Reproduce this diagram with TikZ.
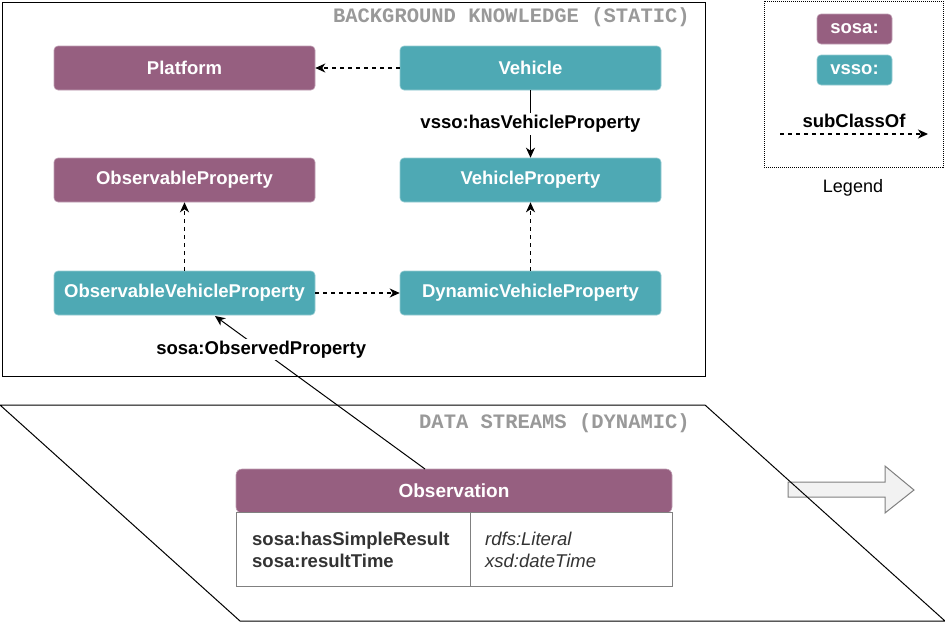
\documentclass[tikz,border=0pt]{standalone}
\usepackage{fontspec}
\setmainfont{Liberation Sans}
\newfontfamily\monofont{Liberation Mono}
\usepackage{tikz}
\usetikzlibrary{arrows.meta}
\definecolor{sosapurple}{HTML}{965F80}
\definecolor{vssoteal}{HTML}{4EA9B4}
\definecolor{titlegray}{HTML}{999999}
\definecolor{attrgray}{HTML}{333333}

\begin{document}
\begin{tikzpicture}[x=1pt,y=1pt]
\tikzstyle{every node}+=[inner sep=0pt]
\tikzstyle{cls}=[rectangle, rounded corners=4pt, text=white, line width=0.6pt, font=\bfseries\fontsize{18.5}{22}\selectfont, minimum width=261pt, minimum height=44pt]
\tikzstyle{sosacls}=[cls, fill=sosapurple, draw=sosapurple!60!white]
\tikzstyle{vssocls}=[cls, fill=vssoteal, draw=vssoteal!60!white]
\tikzstyle{subcls}=[black, line width=1.1pt, dash pattern=on 4pt off 4pt, -{Stealth[length=10pt,width=9pt,inset=3pt]}]
\tikzstyle{prop}=[black, line width=1.1pt, -{Stealth[length=10pt,width=9pt,inset=3pt]}]
\tikzstyle{lbl}=[fill=white, inner sep=2pt, font=\bfseries\fontsize{18.5}{22}\selectfont]
\tikzstyle{titletxt}=[text=titlegray, font=\monofont\bfseries\fontsize{20.5}{24}\selectfont]
\useasboundingbox (0,0) rectangle (945,-624);
\draw [black, line width=1pt] (2,-2) rectangle (705,-376);
\node [titletxt, anchor=east] (bgtitle) at (690,-17) {BACKGROUND KNOWLEDGE (STATIC)};
\node [sosacls] (platform) at (184.5,-68) {Platform};
\node [vssocls] (vehicle) at (530.5,-68) {Vehicle};
\node [sosacls] (obsprop) at (184.5,-180) {ObservableProperty};
\node [vssocls] (vehprop) at (530.5,-180) {VehicleProperty};
\node [vssocls] (ovp) at (184.5,-293) {ObservableVehicleProperty};
\node [vssocls] (dvp) at (530.5,-293) {DynamicVehicleProperty};
\draw [subcls] (vehicle) -- (platform);
\draw [prop] (vehicle) -- node [lbl] {vsso:hasVehicleProperty} (vehprop);
\draw [subcls] (ovp) -- (obsprop);
\draw [subcls] (dvp) -- (vehprop);
\draw [subcls] (ovp) -- (dvp);
\draw [black, densely dotted, line width=1pt] (764,-1) rectangle (943,-167);
\node [sosacls, minimum width=75pt, minimum height=30pt] (legsosa) at (854.5,-29) {sosa:};
\node [vssocls, minimum width=75pt, minimum height=30pt] (legvsso) at (854.5,-70) {vsso:};
\coordinate (legfrom) at (780,-134);
\coordinate (legto) at (928,-134);
\draw [subcls] (legfrom) -- node [lbl, above=4pt, fill=none] {subClassOf} (legto);
\node [font=\fontsize{18}{22}\selectfont] (legend) at (853,-188) {Legend};
\draw [gray, fill=gray!10, line width=1pt] (788,-482) -- (885,-482) -- (885,-466) -- (914,-490) -- (885,-513) -- (885,-497) -- (788,-497) -- cycle;
\draw [black, line width=1pt] (0,-405) -- (705,-405) -- (945,-621) -- (240,-621) -- cycle;
\node [titletxt, anchor=east] (dstitle) at (690,-423) {DATA STREAMS (DYNAMIC)};
\node [sosacls, rounded corners=6pt, minimum width=436pt, font=\bfseries\fontsize{19}{22}\selectfont] (obs) at (454,-491) {Observation};
\node [rectangle, draw=gray, fill=white, line width=1pt, minimum width=436pt, minimum height=74pt] (obsattr) at (454,-549) {};
\draw [gray, line width=1pt] (470,-512) -- (470,-586);
\node [anchor=west, align=left, text=attrgray, font=\bfseries\fontsize{18.5}{22}\selectfont] (attrkeys) at (252,-550) {sosa:hasSimpleResult\\sosa:resultTime};
\node [anchor=west, align=left, text=attrgray, font=\itshape\fontsize{18.5}{22}\selectfont] (attrtypes) at (485,-550) {rdfs:Literal\\xsd:dateTime};
\coordinate (obsin) at (425,-469);
\coordinate (ovpin) at (215,-316);
\draw [prop, line width=1pt] (obsin) -- node [lbl, pos=0.78] {sosa:ObservedProperty} (ovpin);
\end{tikzpicture}
\end{document}
